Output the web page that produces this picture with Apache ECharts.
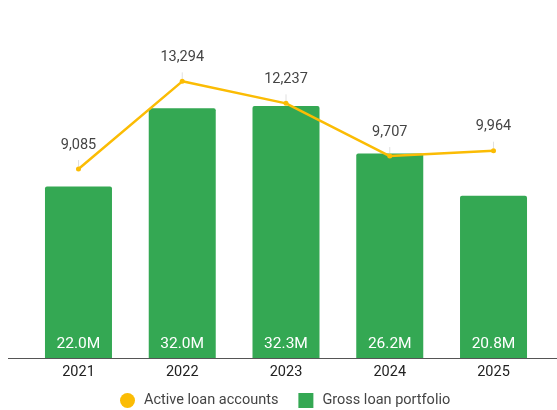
<!DOCTYPE html>
<html><head><meta charset="utf-8">
<script src="https://cdn.jsdelivr.net/npm/echarts@6/dist/echarts.min.js"></script>
<style>html,body{margin:0;padding:0;background:#fff}#c{width:557px;height:410px}</style>
</head><body><div id="c"></div>
<script>
const years = ['2021','2022','2023','2024','2025'];
const activeLoanAccounts = [9085, 13294, 12237, 9707, 9964];
const grossLoanPortfolio = [22.0, 32.0, 32.3, 26.2, 20.8];

const chart = echarts.init(document.getElementById('c'));
chart.setOption({
  animation: false,
  textStyle: {fontFamily: 'Roboto'},
  grid: {left: 26.6, width: 518.8, top: 45.8, height: 312.5},
  legend: {
    top: 388, left: 115, itemGap: 20, itemWidth: 15, itemHeight: 15,
    textStyle: {fontSize: 14.5, color: '#444', fontFamily: 'Roboto', padding: [0,0,0,4]},
    data: [{name: 'Active loan accounts', icon: 'circle'}, {name: 'Gross loan portfolio', icon: 'rect'}]
  },
  xAxis: {
    type: 'category', data: years,
    axisTick: {show: false},
    axisLine: {lineStyle: {color: '#444', width: 1}},
    axisLabel: {fontSize: 14.5, color: '#222', margin: 7}
  },
  yAxis: [
    {type: 'value', min: 0, max: 40, show: false},
    {type: 'value', min: 0, max: 15000, show: false}
  ],
  graphic: [{
    type: 'line', shape: {x1: 8, y1: 358.5, x2: 557, y2: 358.5},
    style: {stroke: '#555', lineWidth: 1}, z: 10
  }],
  series: [
    {
      name: 'Gross loan portfolio', type: 'bar', data: grossLoanPortfolio, yAxisIndex: 0,
      barWidth: 67, itemStyle: {color: '#34a853', borderRadius: [2,2,0,0]},
      label: {show: true, position: 'insideBottom', distance: 6, color: '#fff', fontSize: 15.5,
        formatter: p => p.value.toFixed(1) + 'M'}
    },
    {
      name: 'Active loan accounts', type: 'line', data: activeLoanAccounts, yAxisIndex: 1,
      color: '#fbbc04', lineStyle: {width: 2.5, color: '#fbbc04'},
      symbol: 'circle', symbolSize: 5, itemStyle: {color: '#fbbc04'},
      z: 5,
      label: {show: true, position: 'top', distance: 14, color: '#444', fontSize: 14.5,
        formatter: p => p.value.toLocaleString('en-US')},
      labelLine: {show: true, lineStyle: {color: '#e0e0e0', width: 1}}
    }
  ]
});
</script></body></html>
